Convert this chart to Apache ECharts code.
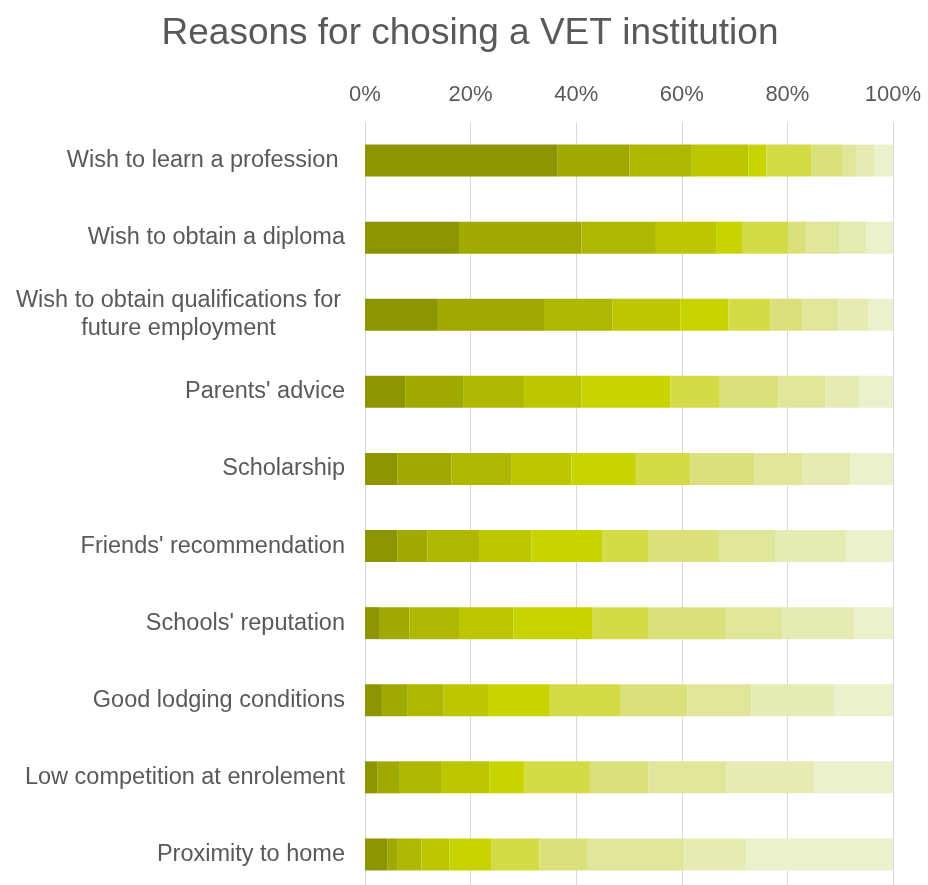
<!DOCTYPE html>
<html>
<head>
<meta charset="utf-8">
<script src="https://cdn.jsdelivr.net/npm/echarts@6/dist/echarts.min.js"></script>
<style>html,body{margin:0;padding:0;background:#fff}#c{width:928px;height:885px}</style>
</head>
<body>
<div id="c"></div>
<script>
const categories = [
  "Wish to learn a profession ",
  "Wish to obtain a diploma",
  "Wish to obtain qualifications for\nfuture employment",
  "Parents' advice",
  "Scholarship",
  "Friends' recommendation",
  "Schools' reputation",
  "Good lodging conditions",
  "Low competition at enrolement",
  "Proximity to home"
];
const seriesNames = ["1","2","3","4","5","6","7","8","9","10"];
const values = [
  [36.5, 17.8, 13.8, 7.6, 6.1, 6.1, 2.8, 3.2, 2.4, 4.3],
  [13.6, 23.2, 20.1, 11.1, 10.3, 5.7, 5.6, 4.9, 4.2, 1.9],
  [11.8, 14.1, 13.0, 11.4, 11.4, 9.8, 9.4, 6.8, 7.8, 4.5],
  [10.7, 11.4, 12.8, 10.9, 11.3, 9.9, 10.3, 8.4, 9.2, 5.3],
  [3.4, 4.9, 9.1, 16.8, 12.2, 13.4, 14.9, 11.7, 6.5, 8.0],
  [8.6, 8.7, 8.0, 9.4, 10.3, 8.7, 10.6, 13.3, 12.5, 9.0],
  [5.9, 3.5, 6.1, 11.1, 12.1, 13.6, 14.8, 12.8, 11.1, 9.2],
  [2.5, 6.3, 6.8, 8.9, 9.2, 10.6, 10.6, 12.1, 14.7, 18.3],
  [3.4, 5.0, 5.7, 6.5, 9.0, 13.3, 13.7, 15.6, 16.7, 11.7],
  [3.6, 5.1, 4.7, 6.3, 8.2, 8.9, 7.3, 11.2, 14.9, 27.8]
];
const tickLabels = ["0%","20%","40%","60%","80%","100%"];
const colors = ["#8c9400","#a0a900","#aeb800","#bdc700","#c8d400","#d3dc47","#dae17a","#dfe699","#e6ebb3","#ebf1cc"];

const chart = echarts.init(document.getElementById('c'));
chart.setOption({
  animation: false,
  backgroundColor: '#fff',
  title: {
    text: 'Reasons for chosing a VET institution',
    left: 465, top: 10, textAlign: 'center',
    textStyle: {fontFamily: 'Liberation Sans', fontSize: 37, fontWeight: 'normal', color: '#595959'}
  },
  grid: {left: 365, right: 35, top: 122, height: 771, containLabel: false, outerBoundsMode: 'none'},
  xAxis: {
    type: 'value', position: 'top', min: 0, max: 100, interval: 20,
    axisLine: {show: false}, axisTick: {show: false},
    splitLine: {lineStyle: {color: '#d9d9d9', width: 1}},
    axisLabel: {
      margin: 16, color: '#595959', fontFamily: 'Liberation Sans', fontSize: 22,
      formatter: v => tickLabels[Math.round(v / 20)]
    }
  },
  yAxis: {
    type: 'category', inverse: true, data: categories,
    axisLine: {show: false}, axisTick: {show: false},
    axisLabel: {
      margin: 20, color: '#595959', fontFamily: 'Liberation Sans', fontSize: 23.5, lineHeight: 28,
      formatter: v => v.indexOf('\n') >= 0 ? v.split('\n').map(s => '{c|' + s + '}').join('\n') : v,
      rich: {c: {width: 333, align: 'center', color: '#595959', fontFamily: 'Liberation Sans', fontSize: 23.5, lineHeight: 28}}
    }
  },
  series: seriesNames.map((n, i) => ({
    name: n, type: 'bar', stack: 'all', barWidth: 32,
    itemStyle: {color: colors[i]},
    data: values[i]
  }))
});
</script>
</body>
</html>
